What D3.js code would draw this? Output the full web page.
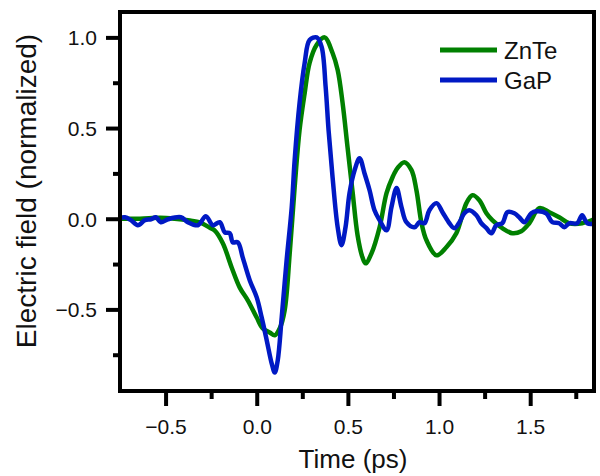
<!DOCTYPE html>
<html lang="en">
<head>
    <meta charset="utf-8" />
    <title>THz field</title>
    <style>
        body { margin: 0; background: #fff; }
        text { font-family: "Liberation Sans", Arial, Helvetica, sans-serif; }
    </style>
</head>
<body>
<script src="https://d3js.org/d3.v7.min.js"></script>
<div id="my_dataviz"></div>
<script>
    // ZnTe trace: time (ps) and normalized field
    const znteTime = [-0.75, -0.64, -0.53, -0.45, -0.367, -0.312, -0.257, -0.23, -0.186, -0.137,
        -0.093, -0.049, 0.0, 0.033, 0.071, 0.099, 0.126, 0.153, 0.181, 0.208,
        0.235, 0.263, 0.29, 0.329, 0.372, 0.416, 0.444, 0.471, 0.498, 0.526,
        0.553, 0.58, 0.597, 0.63, 0.674, 0.712, 0.745, 0.772, 0.81, 0.849,
        0.876, 0.904, 0.931, 0.986, 1.04, 1.095, 1.15, 1.183, 1.221, 1.26,
        1.292, 1.347, 1.402, 1.451, 1.495, 1.55, 1.605, 1.659, 1.714, 1.785, 1.862];
    const znteField = [0.0, 0.0, 0.005, 0.0, -0.01, -0.02, -0.05, -0.065, -0.135, -0.27,
        -0.38, -0.45, -0.545, -0.605, -0.627, -0.643, -0.605, -0.506, -0.19, 0.174,
        0.489, 0.693, 0.859, 0.959, 1.0, 0.914, 0.82, 0.638, 0.395, 0.146,
        -0.09, -0.213, -0.246, -0.19, -0.047, 0.141, 0.229, 0.279, 0.312, 0.268,
        0.157, -0.025, -0.119, -0.202, -0.157, -0.08, 0.086, 0.13, 0.102, 0.03,
        -0.008, -0.052, -0.08, -0.069, -0.025, 0.058, 0.036, 0.008, -0.025, -0.025, 0.003];

    // GaP trace
    const gapTime = [-0.761, -0.723, -0.69, -0.652, -0.613, -0.58, -0.553, -0.526, -0.487, -0.416,
        -0.378, -0.323, -0.279, -0.241, -0.203, -0.175, -0.148, -0.131, -0.104, -0.077,
        -0.038, 0.0, 0.027, 0.055, 0.082, 0.099, 0.115, 0.137, 0.164, 0.192,
        0.208, 0.235, 0.263, 0.29, 0.329, 0.356, 0.378, 0.394, 0.416, 0.444,
        0.465, 0.487, 0.509, 0.537, 0.564, 0.591, 0.619, 0.646, 0.674, 0.712,
        0.739, 0.767, 0.794, 0.821, 0.865, 0.893, 0.92, 0.947, 0.986, 1.019,
        1.057, 1.084, 1.112, 1.139, 1.166, 1.205, 1.232, 1.26, 1.287, 1.314,
        1.347, 1.375, 1.413, 1.44, 1.468, 1.506, 1.533, 1.588, 1.621, 1.659,
        1.687, 1.714, 1.758, 1.785, 1.813, 1.862];
    const gapField = [0.003, 0.008, -0.008, -0.036, -0.008, -0.003, 0.008, -0.019, -0.003, 0.008,
        -0.019, -0.036, 0.014, -0.036, -0.019, -0.075, -0.08, -0.13, -0.13, -0.213,
        -0.34, -0.434, -0.544, -0.671, -0.798, -0.848, -0.782, -0.544, -0.229, 0.064,
        0.323, 0.638, 0.859, 0.986, 1.0, 0.948, 0.727, 0.489, 0.229, -0.047,
        -0.146, -0.047, 0.141, 0.268, 0.334, 0.251, 0.157, 0.047, -0.008, -0.064,
        0.064, 0.169, 0.064, -0.019, -0.047, -0.019, -0.025, 0.047, 0.086, 0.036,
        -0.025, -0.052, -0.019, 0.03, 0.047, 0.019, -0.025, -0.052, -0.08, -0.036,
        -0.025, 0.036, 0.03, 0.008, -0.019, 0.03, 0.041, 0.03, -0.019, -0.025,
        -0.047, -0.025, -0.025, 0.019, -0.025, -0.025];

    const seriesNames = ["ZnTe", "GaP"];
    const seriesColors = ["#008000", "#0019c4"];

    const xMajor = [-0.5, 0.0, 0.5, 1.0, 1.5];
    const xMinor = [-0.25, 0.25, 0.75, 1.25, 1.75];
    const yMajor = [-0.5, 0.0, 0.5, 1.0];
    const yMinor = [-0.75, -0.25, 0.25, 0.75];

    // plot box in page pixels
    const box = {left: 120, right: 594, top: 12, bottom: 391};

    const svg = d3.select("#my_dataviz")
        .append("svg")
        .attr("width", 600)
        .attr("height", 476);

    const x = d3.scaleLinear().domain([-0.75, 1.85]).range([box.left, box.right]);
    const y = d3.scaleLinear().domain([-0.95, 1.14]).range([box.bottom, box.top]);

    const fmt = d => d3.format(".1f")(d);

    svg.append("clipPath").attr("id", "clip")
        .append("rect")
        .attr("x", box.left).attr("y", box.top)
        .attr("width", box.right - box.left).attr("height", box.bottom - box.top);

    // bottom axis, major then minor
    const gx = svg.append("g")
        .attr("transform", `translate(0,${box.bottom})`)
        .call(d3.axisBottom(x).tickValues(xMajor).tickSize(15).tickFormat(fmt));
    svg.append("g")
        .attr("transform", `translate(0,${box.bottom})`)
        .call(d3.axisBottom(x).tickValues(xMinor).tickSize(8).tickFormat(""));

    const gy = svg.append("g")
        .attr("transform", `translate(${box.left},0)`)
        .call(d3.axisLeft(y).tickValues(yMajor).tickSize(14).tickFormat(fmt));
    svg.append("g")
        .attr("transform", `translate(${box.left},0)`)
        .call(d3.axisLeft(y).tickValues(yMinor).tickSize(7).tickFormat(""));

    svg.selectAll(".domain").remove();
    svg.selectAll(".tick line").attr("stroke", "#000").attr("stroke-width", 4);

    gx.selectAll(".tick text")
        .attr("y", 0).attr("dy", 0)
        .attr("transform", "translate(0,43)")
        .style("font-size", "21px").attr("fill", "#111");
    gy.selectAll(".tick text")
        .attr("x", -23).attr("dy", "0.36em")
        .style("font-size", "21px").attr("fill", "#111");

    // traces
    const line = d3.line()
        .x(d => x(d[0]))
        .y(d => y(d[1]))
        .curve(d3.curveCatmullRom.alpha(0.5));

    const traces = [
        d3.zip(znteTime, znteField),
        d3.zip(gapTime, gapField)
    ];

    svg.append("g")
        .attr("clip-path", "url(#clip)")
        .selectAll("path")
        .data(traces)
        .join("path")
        .attr("d", line)
        .attr("fill", "none")
        .attr("stroke", (d, i) => seriesColors[i])
        .attr("stroke-width", 4.5)
        .attr("stroke-linejoin", "round")
        .attr("stroke-linecap", "round");

    // frame
    svg.append("rect")
        .attr("x", box.left).attr("y", box.top)
        .attr("width", box.right - box.left).attr("height", box.bottom - box.top)
        .attr("fill", "none")
        .attr("stroke", "#000")
        .attr("stroke-width", 4);

    // legend
    const legend = svg.append("g").attr("transform", "translate(440,50)");
    seriesNames.forEach((name, i) => {
        legend.append("line")
            .attr("x1", 0).attr("x2", 57)
            .attr("y1", i * 30).attr("y2", i * 30)
            .attr("stroke", seriesColors[i])
            .attr("stroke-width", 5);
        legend.append("text")
            .attr("x", 64).attr("y", i * 30)
            .attr("dy", "0.36em")
            .style("font-size", "24px")
            .attr("fill", "#111")
            .text(name);
    });

    // axis titles
    svg.append("text")
        .attr("x", 353).attr("y", 468)
        .attr("text-anchor", "middle")
        .style("font-size", "26px")
        .attr("fill", "#111")
        .text("Time (ps)");

    svg.append("text")
        .attr("transform", "translate(36,191) rotate(-90)")
        .attr("text-anchor", "middle")
        .style("font-size", "28px")
        .attr("fill", "#111")
        .text("Electric field (normalized)");
</script>
</body>
</html>
